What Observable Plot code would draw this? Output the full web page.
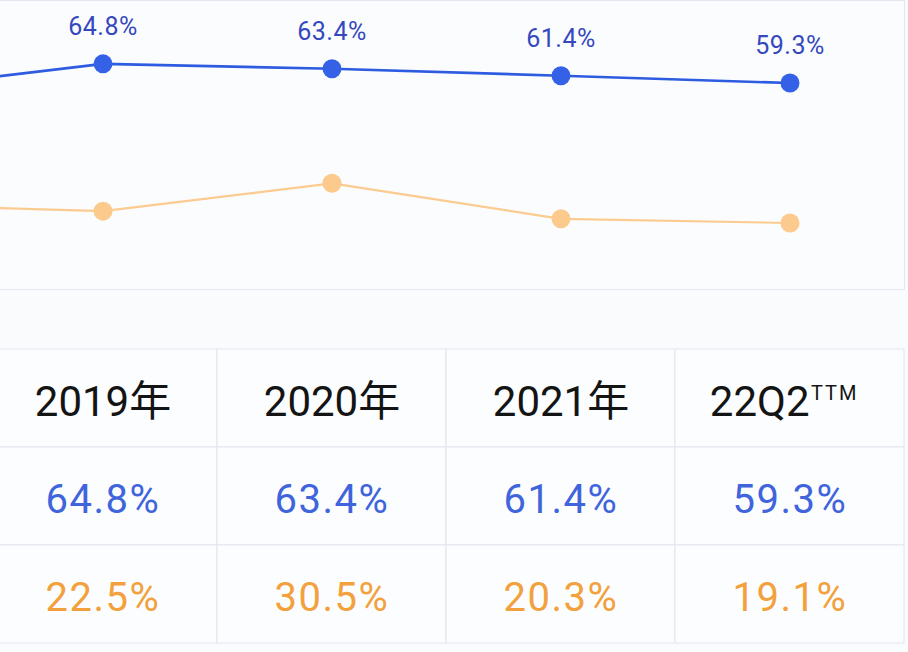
<!DOCTYPE html>
<html><head><meta charset="utf-8">
<script src="https://cdn.jsdelivr.net/npm/d3@7"></script>
<script src="https://cdn.jsdelivr.net/npm/@observablehq/plot@0.6"></script>
<style>
html,body{margin:0;padding:0;background:#fafbfd;overflow:hidden;width:908px;height:652px;}
#chart svg,#table svg{display:block;}
</style></head><body>
<div id="chart"></div><div id="table"></div>
<script>
// Categories (the first one lies just left of the visible crop; only its line stub shows)
const categories = ["2018年", "2019年", "2020年", "2021年", "22Q2"];
const headerSup = ["", "", "", "", "TTM"];
// Blue series (upper line) and orange series (lower line), in %
const grossMargin = [57.0, 64.8, 63.4, 61.4, 59.3];
const netMargin = [24.4, 22.5, 30.5, 20.3, 19.1];
const rowKeys = ["header", "gross", "net"];

const font = "Roboto, 'Noto Sans CJK SC', sans-serif";
const xRange = [-241, 904];

const points = categories.map((c, i) => ({cat: c, sup: headerSup[i], gross: grossMargin[i], net: netMargin[i]}));
const visible = points.slice(1);

const chart = Plot.plot({
  width: 908, height: 290,
  marginTop: 0, marginBottom: 1, marginLeft: -3, marginRight: 4,
  style: {background: "#fbfcfe", fontFamily: font},
  x: {type: "band", domain: categories, range: xRange, padding: 0, axis: null},
  y: {domain: [0, 83], axis: null},
  marks: [
    Plot.frame({stroke: "#e3e7ef"}),
    Plot.line(points, {x: "cat", y: "net", stroke: "#fbcb90", strokeWidth: 2.2, clip: true}),
    Plot.dot(points, {x: "cat", y: "net", r: 9.5, fill: "#fcca8c", clip: true}),
    Plot.line(points, {x: "cat", y: "gross", stroke: "#2e5ce0", strokeWidth: 2.6, clip: true}),
    Plot.dot(points, {x: "cat", y: "gross", r: 9.5, fill: "#3461e6", clip: true}),
    Plot.text(visible, {x: "cat", y: "gross", text: d => d.gross.toFixed(1) + "%", dy: -37, fontSize: 25, fill: "#3548bd"})
  ]
});
document.getElementById("chart").appendChild(chart);
d3.select(chart).selectAll("text").style("letter-spacing", "0.5px");

const cells = visible.flatMap(d => rowKeys.map(r => ({cat: d.cat, row: r})));

const table = Plot.plot({
  width: 908, height: 362,
  marginTop: 0, marginBottom: 0, marginLeft: 0, marginRight: 0,
  style: {background: "#fafbfd", fontFamily: font},
  x: {type: "band", domain: categories, range: xRange, padding: 0, axis: null},
  y: {type: "band", domain: rowKeys, range: [58, 354], padding: 0, axis: null},
  marks: [
    Plot.cell(cells, {x: "cat", y: "row", fill: "#fcfdff", stroke: "#e1e5ee", inset: 0}),
    Plot.text(visible.filter(d => !d.sup), {x: "cat", y: () => "header", text: "cat", fontSize: 42, fill: "#141414", dy: 4}),
    Plot.text(visible.filter(d => d.sup), {x: "cat", y: () => "header", text: "cat", textAnchor: "end", dx: 19.5, fontSize: 42, fill: "#141414", dy: 4}),
    Plot.text(visible.filter(d => d.sup), {x: "cat", y: () => "header", text: "sup", textAnchor: "start", dx: 21, dy: -5, fontSize: 20, fill: "#141414"}),
    Plot.text(visible, {x: "cat", y: () => "gross", text: d => d.gross.toFixed(1) + "%", fontSize: 40, fill: "#4064dc", dy: 4}),
    Plot.text(visible, {x: "cat", y: () => "net", text: d => d.net.toFixed(1) + "%", fontSize: 40, fill: "#f2a13c", dy: 4})
  ]
});
document.getElementById("table").appendChild(table);
d3.select(table).selectAll("text").filter(function() { return /%$/.test(this.textContent); }).style("letter-spacing", "1.5px");
d3.select(table).selectAll("text").filter(function() { return this.textContent === "TTM"; }).style("letter-spacing", "2px");
</script>
</body></html>
